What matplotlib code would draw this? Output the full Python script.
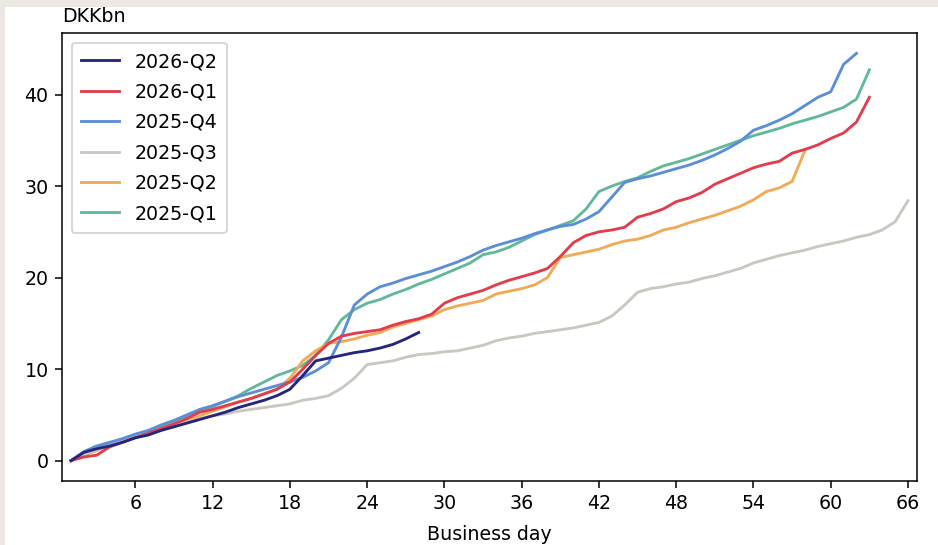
import matplotlib
matplotlib.use("Agg")
import matplotlib.pyplot as plt
from matplotlib.patches import Rectangle

# ===========================
# DATA (cumulative, DKKbn, by business day)
# ===========================
q2_2026 = [0, 0.9, 1.3, 1.6, 2.0, 2.5, 2.8, 3.3, 3.7, 4.1, 4.5, 4.9, 5.3, 5.8,
           6.2, 6.6, 7.1, 7.8, 9.3, 10.9, 11.2, 11.5, 11.8, 12.0, 12.3, 12.7,
           13.3, 14.0]
q1_2026 = [0, 0.4, 0.6, 1.5, 2.0, 2.5, 3.0, 3.5, 4.0, 4.6, 5.3, 5.6, 6.0, 6.4,
           6.8, 7.3, 7.8, 8.6, 10.0, 11.5, 12.8, 13.6, 13.9, 14.1, 14.3, 14.8,
           15.2, 15.5, 16.0, 17.2, 17.8, 18.2, 18.6, 19.2, 19.7, 20.1, 20.5,
           21.0, 22.3, 23.8, 24.6, 25.0, 25.2, 25.5, 26.6, 27.0, 27.5, 28.3,
           28.7, 29.3, 30.2, 30.8, 31.4, 32.0, 32.4, 32.7, 33.6, 34.0, 34.5,
           35.2, 35.8, 37.0, 39.7]
q4_2025 = [0, 1.0, 1.6, 2.0, 2.4, 2.9, 3.3, 3.9, 4.4, 5.0, 5.6, 6.0, 6.5, 7.0,
           7.4, 7.8, 8.2, 8.6, 9.1, 9.8, 10.7, 13.5, 17.0, 18.2, 19.0, 19.4,
           19.9, 20.3, 20.7, 21.2, 21.7, 22.3, 23.0, 23.5, 23.9, 24.3, 24.8,
           25.2, 25.6, 25.8, 26.4, 27.2, 28.8, 30.4, 30.8, 31.1, 31.5, 31.9,
           32.3, 32.8, 33.4, 34.1, 34.9, 36.1, 36.6, 37.2, 37.9, 38.8, 39.7,
           40.3, 43.3, 44.5]
q3_2025 = [0, 0.7, 1.2, 1.7, 2.2, 2.6, 3.0, 3.4, 3.8, 4.2, 4.6, 4.9, 5.1, 5.4,
           5.6, 5.8, 6.0, 6.2, 6.6, 6.8, 7.1, 7.9, 9.0, 10.5, 10.7, 10.9, 11.3,
           11.6, 11.7, 11.9, 12.0, 12.3, 12.6, 13.1, 13.4, 13.6, 13.9, 14.1,
           14.3, 14.5, 14.8, 15.1, 15.8, 17.0, 18.4, 18.8, 19.0, 19.3, 19.5,
           19.9, 20.2, 20.6, 21.0, 21.6, 22.0, 22.4, 22.7, 23.0, 23.4, 23.7,
           24.0, 24.4, 24.7, 25.2, 26.1, 28.4]
q2_2025 = [0, 0.6, 1.1, 1.7, 2.2, 2.7, 3.0, 3.4, 3.9, 4.4, 4.9, 5.4, 5.9, 6.4,
           6.8, 7.3, 7.8, 9.0, 10.9, 12.0, 12.8, 13.0, 13.3, 13.7, 14.0, 14.6,
           15.0, 15.4, 15.8, 16.5, 16.9, 17.2, 17.5, 18.2, 18.5, 18.8, 19.2,
           20.0, 22.2, 22.5, 22.8, 23.1, 23.6, 24.0, 24.2, 24.6, 25.2, 25.5,
           26.0, 26.4, 26.8, 27.3, 27.8, 28.5, 29.4, 29.8, 30.5, 33.9]
q1_2025 = [0, 0.8, 1.3, 1.8, 2.3, 2.8, 3.2, 3.7, 4.3, 4.9, 5.5, 5.9, 6.5, 7.1,
           7.9, 8.6, 9.3, 9.8, 10.4, 11.5, 13.2, 15.4, 16.5, 17.2, 17.6, 18.2,
           18.7, 19.3, 19.8, 20.4, 21.0, 21.6, 22.5, 22.8, 23.3, 24.0, 24.7,
           25.2, 25.7, 26.2, 27.5, 29.4, 30.0, 30.5, 30.9, 31.6, 32.2, 32.6,
           33.0, 33.5, 34.0, 34.5, 35.0, 35.5, 35.9, 36.3, 36.8, 37.2, 37.6,
           38.1, 38.6, 39.5, 42.7]

labels = ["2026-Q2", "2026-Q1", "2025-Q4", "2025-Q3", "2025-Q2", "2025-Q1"]
series = [q2_2026, q1_2026, q4_2025, q3_2025, q2_2025, q1_2025]
colors = ["#24257f", "#e23d4d", "#5b8ed8", "#cbc7c0", "#f1aa55", "#62b99a"]
x_ticks = [6, 12, 18, 24, 30, 36, 42, 48, 54, 60, 66]


def main():
    dpi = 137
    fig = plt.figure(figsize=(938 / dpi, 545 / dpi), dpi=dpi)
    fig.patch.set_facecolor("white")

    # beige screenshot border on left / top
    fig.patches.append(Rectangle((0, 0), 5 / 938, 1, transform=fig.transFigure,
                                 facecolor="#ece8e4", edgecolor="none", zorder=0))
    fig.patches.append(Rectangle((0, 1 - 7 / 545), 1, 7 / 545, transform=fig.transFigure,
                                 facecolor="#ece8e4", edgecolor="none", zorder=0))

    ax = fig.add_axes([62 / 938, 64 / 545, 855 / 938, 448 / 545])

    n = len(series)
    for i, (lab, vals, col) in enumerate(zip(labels, series, colors)):
        days = list(range(1, len(vals) + 1))
        ax.plot(days, vals, color=col, label=lab, linewidth=1.5, zorder=2 + n - i)

    ax.set_xlim(0.3, 66.7)
    ax.set_xticks(x_ticks)
    ax.set_yticks([0, 10, 20, 30, 40])
    ax.set_xlabel("Business day", labelpad=6)
    ax.set_title("DKKbn", loc="left", fontsize=10, pad=6)
    ax.legend(loc="upper left", labelspacing=0.6, borderpad=0.5)

    fig.savefig("out.png", dpi=dpi, facecolor=fig.get_facecolor())


if __name__ == "__main__":
    main()
